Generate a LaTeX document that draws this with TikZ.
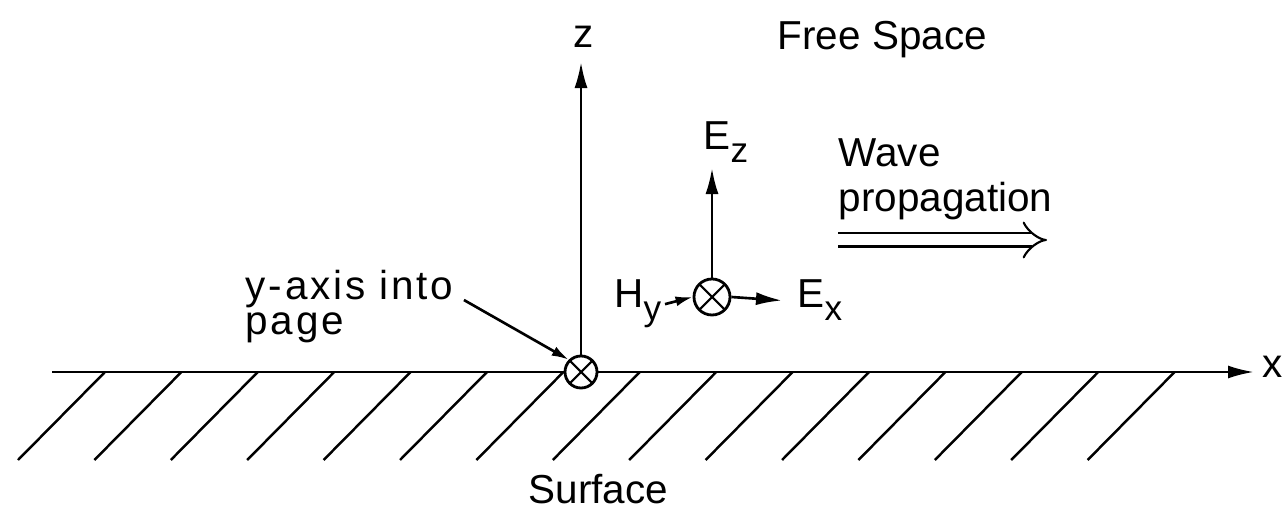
\documentclass[tikz,border=0pt]{standalone}
\usepackage{fontspec}
\setmainfont{Liberation Sans}
\usetikzlibrary{arrows.meta}
\newcommand{\lowsub}[1]{\raisebox{-0.6ex}{\fontsize{10}{10}\selectfont #1}}

\begin{document}
\begin{tikzpicture}[
  x=0.01cm, y=-0.01cm,
  every node/.style={font=\fontsize{11.5}{12}\selectfont, inner sep=0pt},
  lbl/.style={anchor=base west},
  wide/.style={font=\fontsize{11.5}{12}\selectfont\addfontfeature{LetterSpace=7}},
  axis/.style={line width=0.75pt},
  arr/.style={-{Latex[length=0.26cm, width=0.13cm]}, line width=0.75pt},
  smallarr/.style={-{Latex[length=0.17cm, width=0.1cm]}, line width=0.75pt},
  hatch/.style={line width=0.7pt},
  crossdot/.style={circle, draw, fill=white, line width=0.8pt, minimum size=#1,
    path picture={\draw[line width=0.6pt]
      (path picture bounding box.north west) -- (path picture bounding box.south east)
      (path picture bounding box.south west) -- (path picture bounding box.north east);}},
  crossdot/.default=0.32cm,
  wave/.style={double, double distance=0.11cm, line width=0.6pt, -{Implies}}]

\useasboundingbox (0,0) rectangle (1283,519);

% hatching under the surface
\foreach \i in {0,...,14}
  \draw[hatch] ({18+76.4*\i},460) -- ++(87,-88);

\node[crossdot]             (org) at (581,372) {};
\node[crossdot=0.36cm]      (fld) at (712,297) {};

\coordinate (xstart) at (52,372);
\coordinate (xend)   at (1254,372);
\coordinate (ztop)   at (581,62);
\coordinate (eztip)  at (712,168);
\coordinate (wstart) at (838,240);
\coordinate (wend)   at (1047,240);

\node[lbl] (xlab)  at (1262,378) {x};
\node[lbl] (zlab)  at (573,48)   {z};
\node[lbl] (free)  at (777,50)   {Free Space};
\node[lbl] (surf)  at (528,503)  {Surface};
\node[lbl] (wave1) at (838,167)  {Wave};
\node[lbl] (wave2) at (838,212)  {propagation};
\node[lbl, wide] (yax1)  at (245,300)  {y-axis into};
\node[lbl, wide] (yax2)  at (245,335)  {page};
\node[lbl] (ezl)   at (703,150)  {E\lowsub{z}};
\node[anchor=base east] (hyl) at (662,308) {H\lowsub{y}};
\node[lbl] (exl)   at (797,308)  {E\lowsub{x}};

% axes
\draw[axis] (xstart) -- (org.west);
\draw[arr]  (org.east) -- (xend);
\draw[arr]  (org.north) -- (ztop);

% field vectors
\draw[arr]      (fld.north) -- (eztip);
\draw[smallarr] ([xshift=0.03cm]hyl.east) -- (fld.west);
\draw[arr]      (fld.east) -- ([xshift=-0.15cm]exl.west);

\draw[smallarr] ([xshift=0.1cm]yax1.base east) -- (org.north west);
\draw[wave] (wstart) -- (wend);
\end{tikzpicture}
\end{document}
